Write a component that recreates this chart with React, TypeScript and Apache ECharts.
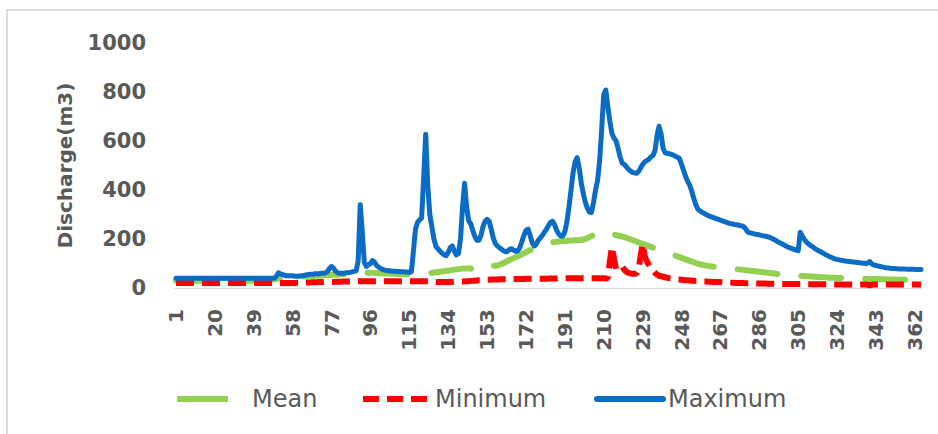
import React, { useEffect, useRef } from "react";
import * as echarts from "echarts";

// Day-of-year categories 1..365
const days: string[] = Array.from({ length: 365 }, (_, i) => String(i + 1));

const yTicks = [0, 200, 400, 600, 800, 1000];

const seriesNames = ["Mean", "Minimum", "Maximum"];

const mean: number[] = [
  30,30,30,30,30,30,30,30,30,30,30,30,30,30,30,30,30,30,30,
  30,30,30,30,30,30,30,30,30,30,30,30,30,30,30,30,30,30,30,
  30,30,30,31,31,32,32,33,34,35,36,37,38,39,40,41,42,43,44,
  44,45,45,46,46,47,47,48,48,49,49,50,50,51,51,52,52,52,53,
  53,54,54,55,55,56,56,57,57,58,58,59,59,60,61,62,62,62,62,
  62,62,61,61,60,60,60,59,59,59,58,58,58,57,57,57,56,56,56,
  56,56,56,57,57,58,58,59,59,60,61,62,63,64,65,66,67,68,70,
  70,72,74,75,76,77,78,79,80,80,80,79,78,76,75,74,76,80,86,
  86,88,89,90,91,92,95,98,102,106,110,114,118,122,126,130,134,138,142,
  146,150,154,157,160,163,166,168,172,176,180,182,184,186,188,189,190,191,192,
  192,193,193,194,194,195,195,196,196,198,200,204,208,212,216,220,224,228,228,
  227,226,224,222,220,218,216,214,212,210,208,205,202,199,196,193,190,186,182,
  180,177,174,171,168,165,162,159,156,153,150,147,144,141,138,135,132,129,126,
  123,120,117,114,111,108,105,102,99,97,95,93,92,90,89,88,87,86,85,
  84,83,82,81,80,80,79,78,77,76,75,74,73,72,71,70,69,68,67,
  66,65,64,63,62,61,60,59,58,57,56,55,54,53,52,52,51,51,50,
  50,50,49,49,48,48,47,47,46,46,45,45,44,44,43,43,42,42,42,
  41,41,41,40,40,40,40,39,39,39,39,38,38,38,38,37,37,37,37,
  37,36,36,36,36,35,35,35,35,35,34,34,34,34,34,34,33,33,33,
  33,33,33,33,
];

const minimum: number[] = [
  20,20,20,20,20,20,20,20,20,20,20,20,20,20,20,20,20,20,20,
  20,20,20,20,20,20,20,20,20,20,20,20,20,20,20,20,20,20,20,
  20,20,20,20,20,20,20,20,20,20,20,20,20,20,20,20,20,20,20,
  20,20,21,21,21,22,22,22,22,23,23,23,24,24,24,24,25,25,25,
  25,25,26,26,26,26,27,27,27,27,28,28,28,28,28,28,28,28,28,
  28,28,28,28,28,28,28,28,28,28,28,28,28,28,28,28,28,28,28,
  28,28,28,28,28,28,28,28,28,27,27,26,26,25,25,25,25,25,25,
  25,25,25,26,26,26,27,27,27,28,28,29,30,30,31,32,32,33,34,
  34,34,35,35,35,35,36,36,36,36,36,36,36,36,37,37,37,37,37,
  38,38,38,38,38,38,38,38,38,38,38,39,39,39,39,39,40,40,40,
  40,40,40,40,40,40,40,40,40,40,40,40,40,40,40,40,40,40,40,
  40,38,42,110,168,120,78,82,90,88,75,66,62,60,58,58,60,75,130,
  180,130,110,95,80,72,62,55,50,48,46,44,42,40,39,38,37,36,35,
  34,33,32,32,31,30,30,29,29,28,28,27,27,26,26,25,25,24,24,
  24,23,23,22,22,22,21,21,20,20,20,20,19,19,19,18,18,18,18,
  18,18,18,18,17,17,17,17,17,17,16,16,16,16,16,16,16,16,16,
  16,16,16,16,15,15,15,15,15,15,15,15,15,15,15,15,14,14,14,
  14,14,14,14,14,14,14,14,14,14,14,14,14,14,14,13,10,13,14,
  14,14,14,14,14,14,14,14,14,14,14,14,14,14,14,14,14,14,14,
  14,14,14,14,
];

const maximum: number[] = [
  40,40,40,40,40,40,40,40,40,40,40,40,40,40,40,40,40,40,40,
  40,40,40,40,40,40,40,40,40,40,40,40,40,40,40,40,40,40,40,
  40,40,40,40,40,40,40,40,40,40,40,48,62,58,55,52,50,50,50,
  50,48,48,48,50,50,52,54,55,56,56,58,58,58,60,60,62,66,80,
  88,80,68,62,60,60,60,62,62,64,66,68,70,110,340,230,105,88,95,
  100,112,105,92,85,80,76,73,71,70,69,68,68,67,67,66,66,65,65,
  64,66,150,240,268,278,285,450,628,420,300,250,200,170,160,150,142,135,132,
  145,165,172,150,135,140,200,330,428,330,275,262,235,210,195,195,215,250,272,
  280,272,240,205,182,172,165,158,152,148,150,158,160,155,150,152,165,190,215,
  235,240,215,185,172,178,195,205,215,228,240,255,268,272,258,235,220,212,212,
  230,270,330,400,470,515,532,490,430,385,350,325,310,308,350,400,440,520,650,
  790,808,740,680,630,612,600,570,535,510,505,495,485,478,472,470,468,475,490,
  505,515,520,525,535,540,560,620,660,630,570,552,550,548,545,542,538,534,528,
  505,480,455,435,420,395,365,340,322,315,310,305,300,296,292,289,286,283,280,
  277,274,271,268,265,263,261,259,258,256,254,252,245,232,226,224,222,220,218,
  217,215,213,211,209,207,203,199,194,189,185,181,176,171,167,164,161,158,155,
  152,228,212,198,188,180,174,168,162,157,152,148,143,138,134,130,126,122,119,
  117,115,113,112,110,109,108,107,106,105,104,103,102,101,100,102,108,98,94,
  92,90,88,86,84,83,82,81,80,80,79,78,78,78,78,77,77,77,77,
  76,76,76,76,
];

const textColor = "#595959";
const axisFont = "DejaVu Sans";
const meanColor = "#92D050";
const minColor = "#FF0000";
const maxColor = "#0A6CC4";

export default function App() {
  const ref = useRef<HTMLDivElement>(null);

  useEffect(() => {
    if (!ref.current) return;
    const chart = echarts.init(ref.current, undefined, { renderer: "svg" });

    const legendText = {
      fontFamily: axisFont,
      fontSize: 24,
      color: textColor,
    };
    const hiddenSymbol = { opacity: 0, borderWidth: 0 };

    chart.setOption({
      animation: false,
      backgroundColor: "#ffffff",
      graphic: [
        {
          type: "rect",
          shape: { x: 7, y: 10, width: 1000, height: 1000 },
          style: { fill: "none", stroke: "#d0d0d0", lineWidth: 1.5 },
          silent: true,
        },
      ],
      grid: { left: 175, right: 16, top: 43, bottom: 146 },
      legend: [
        {
          data: [{ name: "Mean" }],
          left: 169,
          top: 382,
          itemWidth: 51,
          itemHeight: 20,
          itemStyle: hiddenSymbol,
          lineStyle: { type: "solid", width: 6, color: meanColor, cap: "butt" },
          textStyle: { ...legendText, padding: [0, 0, 0, 19] },
        },
        {
          data: [{ name: "Minimum" }],
          left: 355,
          top: 382,
          itemWidth: 67,
          itemHeight: 20,
          itemStyle: hiddenSymbol,
          lineStyle: { type: [16, 8], width: 6, color: minColor },
          textStyle: { ...legendText, padding: [0, 0, 0, 0] },
        },
        {
          data: [{ name: "Maximum" }],
          left: 589,
          top: 382,
          itemWidth: 66,
          itemHeight: 20,
          itemStyle: hiddenSymbol,
          lineStyle: { type: "solid", width: 6, color: maxColor },
          textStyle: { ...legendText, padding: [0, 0, 0, 0] },
        },
      ],
      xAxis: {
        type: "category",
        data: days,
        boundaryGap: true,
        axisLine: { lineStyle: { color: "#d9d9d9", width: 1 } },
        axisTick: { show: false },
        axisLabel: {
          interval: 18,
          rotate: 90,
          margin: 21,
          fontFamily: axisFont,
          fontWeight: "bold",
          fontSize: 20,
          color: textColor,
        },
        splitLine: { show: false },
      },
      yAxis: {
        type: "value",
        min: yTicks[0],
        max: yTicks[yTicks.length - 1],
        interval: 200,
        name: "Discharge(m3)",
        nameLocation: "middle",
        nameGap: 100,
        nameTextStyle: {
          fontFamily: axisFont,
          fontWeight: "bold",
          fontSize: 20,
          color: textColor,
        },
        axisLine: { show: false },
        axisTick: { show: false },
        splitLine: { show: false },
        axisLabel: {
          margin: 29,
          fontFamily: axisFont,
          fontWeight: "bold",
          fontSize: 21,
          color: textColor,
          formatter: (v: number) => String(v),
        },
      },
      series: [
        {
          name: seriesNames[0],
          type: "line",
          data: mean,
          symbol: "none",
          smooth: false,
          lineStyle: { color: meanColor, width: 6, type: [40, 24], cap: "round" },
          itemStyle: { color: meanColor },
          z: 2,
        },
        {
          name: seriesNames[1],
          type: "line",
          data: minimum,
          symbol: "none",
          lineStyle: { color: minColor, width: 6, type: [18, 8] },
          itemStyle: { color: minColor },
          z: 3,
        },
        {
          name: seriesNames[2],
          type: "line",
          data: maximum,
          symbol: "none",
          lineStyle: { color: maxColor, width: 5, join: "round", cap: "round" },
          itemStyle: { color: maxColor },
          z: 4,
        },
      ],
    });

    return () => chart.dispose();
  }, []);

  return (
    <div
      ref={ref}
      style={{ position: "fixed", left: 0, top: 0, width: 938, height: 434 }}
    />
  );
}
